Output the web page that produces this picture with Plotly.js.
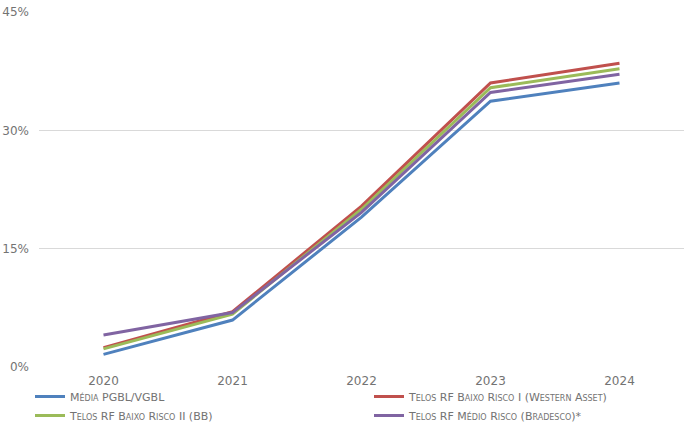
<!DOCTYPE html>
<html>
<head>
<meta charset="utf-8">
<script src="https://cdn.plot.ly/plotly-3.0.1.min.js"></script>
<style>html,body{margin:0;padding:0;background:#fff;}#chart{width:684px;height:427px;}</style>
</head>
<body>
<div id="chart"></div>
<script>
const years = ['2020', '2021', '2022', '2023', '2024'];
const seriesNames = ['Média PGBL/VGBL', 'Telos RF Baixo Risco I (Western Asset)', 'Telos RF Baixo Risco II (BB)', 'Telos RF Médio Risco (Bradesco)*'];
const mediaPGBL = [1.6, 5.95, 19.0, 33.7, 36.0];
const telosI = [2.45, 7.0, 20.4, 36.0, 38.5];
const telosII = [2.3, 6.7, 20.0, 35.4, 37.8];
const telosMedio = [4.05, 6.9, 19.6, 34.8, 37.1];
const colors = ['#4F81BD', '#C0504D', '#9BBB59', '#8064A2'];
const legendGroups = ['legend', 'legend2', 'legend', 'legend2'];
const yTicks = [0, 15, 30, 45];
const yTickLabels = ['0%', '15%', '30%', '45%'];

const allValues = [mediaPGBL, telosI, telosII, telosMedio];
const traces = allValues.map((vals, i) => ({
  x: years, y: vals, type: 'scatter', mode: 'lines', name: seriesNames[i],
  legend: legendGroups[i],
  line: {color: colors[i], width: 3}
}));

const legendFont = {family: 'DejaVu Sans, sans-serif', size: 11, color: '#737373', variant: 'small-caps'};
const layout = {
  width: 684, height: 427,
  margin: {l: 39, r: 0, t: 12, b: 60, autoexpand: false},
  paper_bgcolor: '#fff', plot_bgcolor: '#fff',
  font: {family: 'DejaVu Sans, sans-serif', color: '#737373', size: 12},
  xaxis: {type: 'category', range: [-0.5, 4.5], showgrid: false, zeroline: false, showline: false,
          ticks: '', tickangle: 0, automargin: false, ticklabelstandoff: 5, tickfont: {size: 12, color: '#737373'}},
  yaxis: {range: [0, 45], tickvals: yTicks, ticktext: yTickLabels, showgrid: true, gridcolor: '#d9d9d9',
          gridwidth: 1, zeroline: false, showline: false, ticks: '', ticklabelstandoff: 9, automargin: false,
          tickfont: {size: 12, color: '#737373'}},
  legend: {orientation: 'v', xref: 'container', yref: 'container', x: 30 / 684, xanchor: 'left',
           y: 1 - 382 / 427, yanchor: 'top', itemwidth: 30, tracegroupgap: 0, bgcolor: 'rgba(0,0,0,0)',
           font: legendFont},
  legend2: {orientation: 'v', xref: 'container', yref: 'container', x: 369 / 684, xanchor: 'left',
           y: 1 - 382 / 427, yanchor: 'top', itemwidth: 30, tracegroupgap: 0, bgcolor: 'rgba(0,0,0,0)',
           font: legendFont},
  showlegend: true
};

Plotly.newPlot('chart', traces, layout, {displayModeBar: false, staticPlot: true});
</script>
</body>
</html>
